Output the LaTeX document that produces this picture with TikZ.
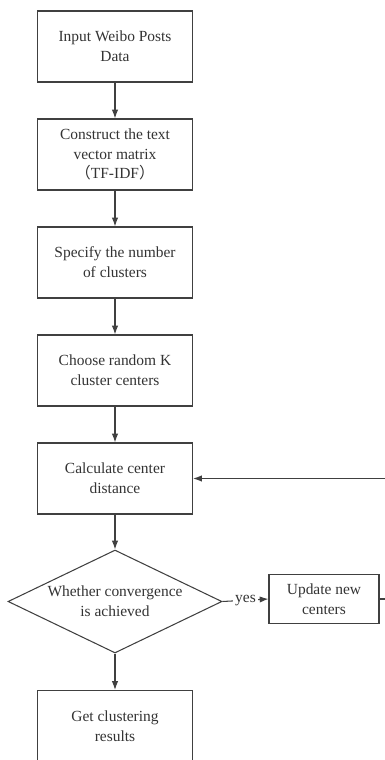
\documentclass[tikz,border=0pt]{standalone}
\usepackage{fontspec}
\setmainfont{Liberation Serif}
\newfontfamily\cjk{Noto Sans CJK SC}
\usepackage{tikz}
\usetikzlibrary{calc, shapes, arrows, arrows.meta}
\definecolor{linegray}{HTML}{404040}
\definecolor{textgray}{HTML}{333333}
\tikzstyle{process} = [rectangle, draw=linegray, text=textgray, align=center, minimum width=3.1cm, minimum height=1.42cm, font=\fontsize{8.8}{11.3}\selectfont]
\tikzstyle{decision} = [diamond, aspect=2.08, draw=linegray, text=textgray, align=center, inner sep=0pt, minimum width=4.28cm, minimum height=2.06cm, font=\fontsize{8.8}{11.3}\selectfont]
\tikzstyle{flow} = [-{Latex[length=5pt, width=3.6pt]}, draw=linegray]

\begin{document}
\begin{tikzpicture}[x=0.02cm, y=-0.02cm, line width=0.6pt]
        \useasboundingbox (0, 0) rectangle (385, 760);
        \node[process] at (115, 46.5) (InputPosts) {Input Weibo Posts\\Data};
        \node[process] at (115, 154.5) (TextMatrix) {Construct the text\\vector matrix\\{\cjk （}TF-IDF{\cjk ）}};
        \node[process] at (115, 262.5) (ClusterNumber) {Specify the number\\of clusters};
        \node[process] at (115, 370.5) (RandomCenters) {Choose random K\\cluster centers};
        \node[process] at (115, 478.5) (CenterDistance) {Calculate center\\distance};
        \node[decision] at (115, 601.5) (Convergence) {Whether convergence\\is achieved};
        \node[process, minimum width=2.2cm, minimum height=0.97cm] at (324, 599) (UpdateCenters) {Update new\\centers};
        \node[process] at (115, 726) (ClusterResults) {Get clustering\\results};
        \coordinate (LoopTurn) at (410, 599);

        \draw[flow] (InputPosts) -- (TextMatrix);
        \draw[flow] (TextMatrix) -- (ClusterNumber);
        \draw[flow] (ClusterNumber) -- (RandomCenters);
        \draw[flow] (RandomCenters) -- (CenterDistance);
        \draw[flow] (CenterDistance) -- (Convergence);
        \draw[flow] (Convergence.east) -- node[fill=white, inner sep=1pt, text=textgray, font=\fontsize{8.8}{11.3}\selectfont] {yes} (UpdateCenters.west);
        \draw[flow] (UpdateCenters.east) -- (LoopTurn) |- (CenterDistance.east);
        \draw[flow] (Convergence) -- (ClusterResults);
    \end{tikzpicture}
\end{document}
